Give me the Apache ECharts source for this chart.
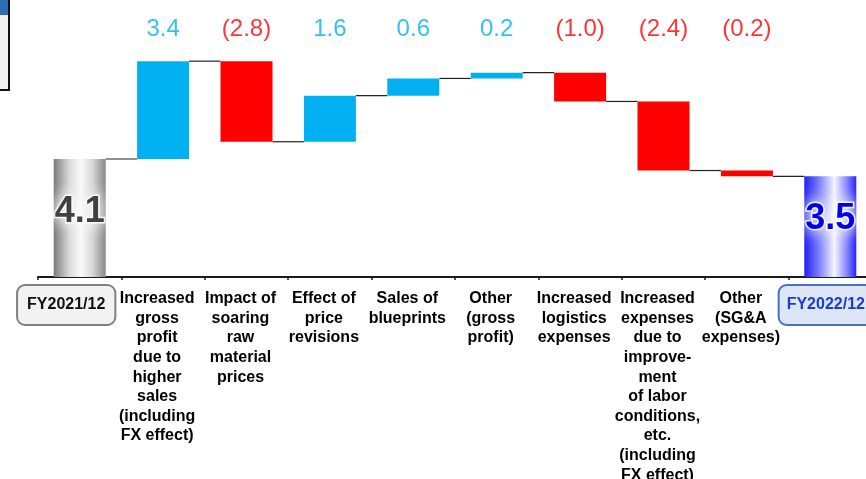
<!DOCTYPE html>
<html><head><meta charset="utf-8">
<script src="https://cdn.jsdelivr.net/npm/echarts@6/dist/echarts.min.js"></script>
<style>html,body{margin:0;padding:0;background:#fff}#c{width:866px;height:479px}</style>
</head><body><div id="c"></div>
<script>
const categories = [
  'FY2021/12',
  'Increased\ngross\nprofit\ndue to\nhigher\nsales\n(including\nFX effect)',
  'Impact of\nsoaring\nraw\nmaterial\nprices',
  'Effect of\nprice\nrevisions',
  'Sales of\nblueprints',
  'Other\n(gross\nprofit)',
  'Increased\nlogistics\nexpenses',
  'Increased\nexpenses\ndue to\nimprove-\nment\nof labor\nconditions,\netc.\n(including\nFX effect)',
  'Other\n(SG&A\nexpenses)',
  'FY2022/12'
];
const values = [4.1, 3.4, -2.8, 1.6, 0.6, 0.2, -1.0, -2.4, -0.2, 3.5];
const valueLabels = ['4.1', '3.4', '(2.8)', '1.6', '0.6', '0.2', '(1.0)', '(2.4)', '(0.2)', '3.5'];

const BAR_W = 52;
const TOP_LABEL_Y = 8.62;
const FONT = '"Liberation Sans", Arial, sans-serif';
const BLUE = '#00B0F0', RED = '#FF0000';

// waterfall construction
const last = values.length - 1;
let cum = 0;
const base = [], body = [], level = [];
values.forEach((v, i) => {
  if (i === 0 || i === last) { base.push(0); body.push(v); cum = v; }
  else { const nc = cum + v; base.push(Math.min(cum, nc)); body.push(Math.abs(v)); cum = nc; }
  level.push(cum);
});

const grayGrad = new echarts.graphic.LinearGradient(0, 0, 1, 0, [
  {offset: 0, color: '#7a7a7a'}, {offset: 0.3, color: '#dadada'},
  {offset: 0.52, color: '#fafafa'}, {offset: 0.75, color: '#d6d6d6'}, {offset: 1, color: '#868686'}
]);
const blueGrad = new echarts.graphic.LinearGradient(0, 0, 1, 0, [
  {offset: 0, color: '#1f1ff2'}, {offset: 0.28, color: '#7c7cff'},
  {offset: 0.58, color: '#f6f6ff'}, {offset: 0.8, color: '#8f8fff'}, {offset: 1, color: '#2424f6'}
]);

const bodyData = body.map((v, i) => {
  if (i === 0 || i === last) {
    const isFirst = i === 0;
    return {
      value: v,
      itemStyle: {color: isFirst ? grayGrad : blueGrad},
      label: {
        show: true, position: 'inside', offset: [0, isFirst ? -5.5 : -8],
        formatter: valueLabels[i], fontFamily: FONT, fontSize: 36, fontWeight: 'bold',
        color: isFirst ? '#404040' : '#0000ee',
        textBorderColor: 'rgba(255,255,255,0.85)', textBorderWidth: 3,
        textShadowColor: '#ffffff', textShadowBlur: 16
      }
    };
  }
  return {value: v, itemStyle: {color: values[i] >= 0 ? BLUE : RED}};
});

const topLabelData = [];
for (let i = 1; i < last; i++) {
  topLabelData.push({
    value: [i, TOP_LABEL_Y],
    label: {formatter: valueLabels[i], color: values[i] >= 0 ? BLUE : RED}
  });
}

const connectorData = level.slice(0, last).map((lv, i) => [i, lv]);

const chart = echarts.init(document.getElementById('c'), null, {renderer: 'canvas'});
chart.setOption({
  animation: false,
  backgroundColor: '#ffffff',
  grid: {left: 38, right: -6, top: 18, bottom: 202, containLabel: false, outerBoundsMode: 'none'},
  xAxis: {
    type: 'category',
    data: categories,
    boundaryGap: true,
    axisLine: {show: true, lineStyle: {color: '#1a1a1a', width: 2}},
    axisTick: {show: true, length: 3, lineStyle: {color: '#1a1a1a', width: 1.5}},
    axisLabel: {
      interval: 0, margin: 12, padding: [0, 12, 0, 0],
      formatter: (val, idx) => {
        if (idx === 0) return '{b1|' + val + '}{s1| }';
        if (idx === last) return '{s2| }{b2|' + val + '}';
        return '{t|' + val + '}';
      },
      rich: {
        t: {fontFamily: FONT, fontSize: 16, fontWeight: 'bold', color: '#000', lineHeight: 19.6, align: 'center'},
        b1: {fontFamily: FONT, fontSize: 16, fontWeight: 'bold', color: '#111', lineHeight: 32,
             backgroundColor: '#f2f2f2', borderColor: '#808080', borderWidth: 2, borderRadius: 7, padding: [11, 9]},
        b2: {fontFamily: FONT, fontSize: 16, fontWeight: 'bold', color: '#1c3bd1', lineHeight: 32,
             backgroundColor: '#dce6f7', borderColor: '#4a6fc7', borderWidth: 2, borderRadius: 7, padding: [11, 7]},
        s1: {width: 15, lineHeight: 32, fontSize: 16},
        s2: {width: 3, lineHeight: 32, fontSize: 16}
      }
    }
  },
  yAxis: {type: 'value', show: false, min: 0, max: 9, splitLine: {show: false}},
  series: [
    {
      name: 'base', type: 'bar', stack: 'w', barWidth: BAR_W, silent: true,
      itemStyle: {color: 'rgba(0,0,0,0)'}, data: base
    },
    {
      name: 'change', type: 'bar', stack: 'w', barWidth: BAR_W,
      data: bodyData
    },
    {
      name: 'connector', type: 'custom', silent: true, z: 1,
      renderItem: (params, api) => {
        const i = api.value(0), lv = api.value(1);
        const p = api.coord([i, lv]);
        const bw = api.size([1, 0])[0];
        return {
          type: 'line',
          shape: {x1: p[0] + BAR_W / 2, y1: p[1], x2: p[0] + bw - BAR_W / 2, y2: p[1]},
          style: {stroke: '#222222', lineWidth: 1.2}
        };
      },
      data: connectorData
    },
    {
      name: 'labels', type: 'scatter', symbolSize: 0, silent: true,
      itemStyle: {color: 'rgba(0,0,0,0)'},
      label: {show: true, position: 'inside', fontFamily: FONT, fontSize: 24},
      data: topLabelData
    }
  ],
  graphic: [
    {type: 'rect', shape: {x: -2, y: -2, width: 11, height: 92},
     style: {fill: '#f0f0f0', stroke: '#111', lineWidth: 2}, z: 10},
    {type: 'rect', shape: {x: -2, y: -2, width: 10, height: 17},
     style: {fill: '#2e6db4'}, z: 11}
  ]
});
</script>
</body></html>
